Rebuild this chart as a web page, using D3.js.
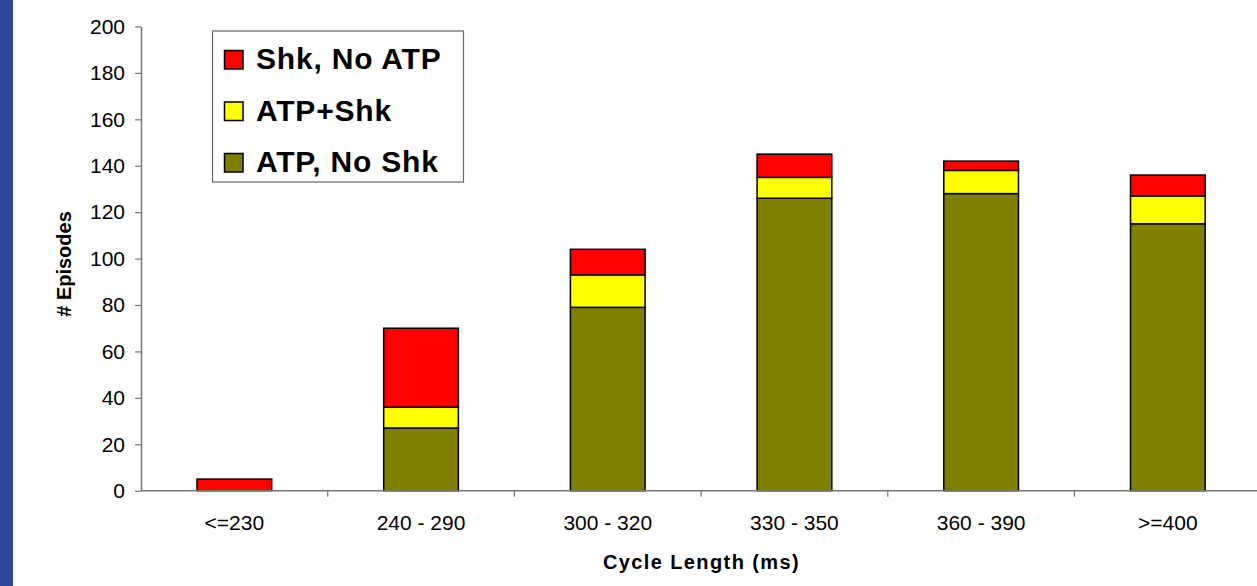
<!DOCTYPE html>
<html>
<head>
<meta charset="utf-8">
<script src="https://cdn.jsdelivr.net/npm/d3@7"></script>
<style>
  body { margin: 0; background: #fff; }
  svg { display: block; font-family: "Liberation Sans", Arial, sans-serif; }
</style>
</head>
<body>
<svg id="chart" width="1257" height="586"></svg>
<script>
const categories = ["<=230", "240 - 290", "300 - 320", "330 - 350", "360 - 390", ">=400"];
const atpNoShk = [0, 27, 79, 126, 128, 115];
const atpShk = [0, 9, 14, 9, 10, 12];
const shkNoAtp = [5, 34, 11, 10, 4, 9];
const yTicks = [0, 20, 40, 60, 80, 100, 120, 140, 160, 180, 200];

const seriesNames = ["ATP, No Shk", "ATP+Shk", "Shk, No ATP"];
const colors = ["#808000", "#FFFF00", "#FF0000"];

const svg = d3.select("#chart");

// blue strip down the left edge
svg.append("rect")
    .attr("x", 0).attr("y", 0)
    .attr("width", 13).attr("height", 586)
    .style("fill", "#2C4597");

const plotLeft = 141, plotBottom = 490.7, plotTop = 26.5;
const step = 186.7;

const x = d3.scaleBand()
    .domain(categories)
    .range([plotLeft, plotLeft + step * categories.length])
    .paddingInner(0.6)
    .paddingOuter(0.3);

const y = d3.scaleLinear().domain([0, 200]).range([plotBottom, plotTop]);

// stack the three series
const rows = categories.map((c, i) => ({
    cat: c,
    "ATP, No Shk": atpNoShk[i],
    "ATP+Shk": atpShk[i],
    "Shk, No ATP": shkNoAtp[i]
}));
const stacked = d3.stack().keys(seriesNames)(rows);

// bars
const layers = svg.append("g").selectAll("g")
    .data(stacked)
    .enter()
    .append("g")
    .style("fill", (d, i) => colors[i]);

layers.selectAll("rect")
    .data(d => d.filter(p => p[1] - p[0] > 0))
    .enter()
    .append("rect")
    .attr("x", d => x(d.data.cat))
    .attr("width", x.bandwidth())
    .attr("y", d => y(d[1]))
    .attr("height", d => y(d[0]) - y(d[1]))
    .style("stroke", "#000")
    .style("stroke-width", 1.5);

// y axis
const yAxis = svg.append("g")
    .attr("transform", `translate(${plotLeft},0)`)
    .call(d3.axisLeft(y).tickValues(yTicks).tickSize(6).tickPadding(10).tickSizeOuter(0));
yAxis.select(".domain").style("stroke", "#777").style("stroke-width", 1.5);
yAxis.selectAll(".tick line").style("stroke", "#777").style("stroke-width", 1.2);
yAxis.selectAll(".tick text")
    .style("font-size", "21px")
    .style("font-family", "Liberation Sans, Arial, sans-serif")
    .style("fill", "#000");

// x axis: tick marks at category boundaries
svg.append("line")
    .attr("x1", plotLeft).attr("x2", 1257)
    .attr("y1", plotBottom).attr("y2", plotBottom)
    .style("stroke", "#777").style("stroke-width", 1.5);

const bounds = d3.range(1, categories.length).map(i => plotLeft + step * i);
svg.append("g").selectAll("line")
    .data(bounds)
    .enter()
    .append("line")
    .attr("x1", d => d).attr("x2", d => d)
    .attr("y1", plotBottom).attr("y2", plotBottom + 6)
    .style("stroke", "#777").style("stroke-width", 1.2);

svg.append("g").selectAll("text")
    .data(categories)
    .enter()
    .append("text")
    .attr("x", d => x(d) + x.bandwidth() / 2)
    .attr("y", 530)
    .attr("text-anchor", "middle")
    .style("font-size", "21px")
    .text(d => d);

// axis titles
svg.append("text")
    .attr("x", 701.5)
    .attr("y", 569)
    .attr("text-anchor", "middle")
    .style("font-size", "20px")
    .style("font-weight", "bold")
    .style("letter-spacing", "1.4px")
    .text("Cycle Length (ms)");

svg.append("text")
    .attr("transform", "translate(71,264) rotate(-90)")
    .attr("text-anchor", "middle")
    .style("font-size", "20px")
    .style("font-weight", "bold")
    .text("# Episodes");

// legend
const legend = svg.append("g");
legend.append("rect")
    .attr("x", 212.5).attr("y", 31)
    .attr("width", 251).attr("height", 151)
    .style("fill", "#fff")
    .style("stroke", "#666")
    .style("stroke-width", 1.2);

const legendItems = [2, 1, 0];
const item = legend.selectAll(".item")
    .data(legendItems)
    .enter()
    .append("g")
    .attr("class", "item")
    .attr("transform", (d, i) => `translate(0,${69 + i * 51.5})`);

item.append("rect")
    .attr("x", 224.5).attr("y", -18.5)
    .attr("width", 18.5).attr("height", 18.5)
    .style("fill", d => colors[d])
    .style("stroke", "#000")
    .style("stroke-width", 1.5);

item.append("text")
    .attr("x", 256)
    .attr("y", 0)
    .style("font-size", "30px")
    .style("font-weight", "bold")
    .style("letter-spacing", "0.8px")
    .text(d => seriesNames[d]);
</script>
</body>
</html>
